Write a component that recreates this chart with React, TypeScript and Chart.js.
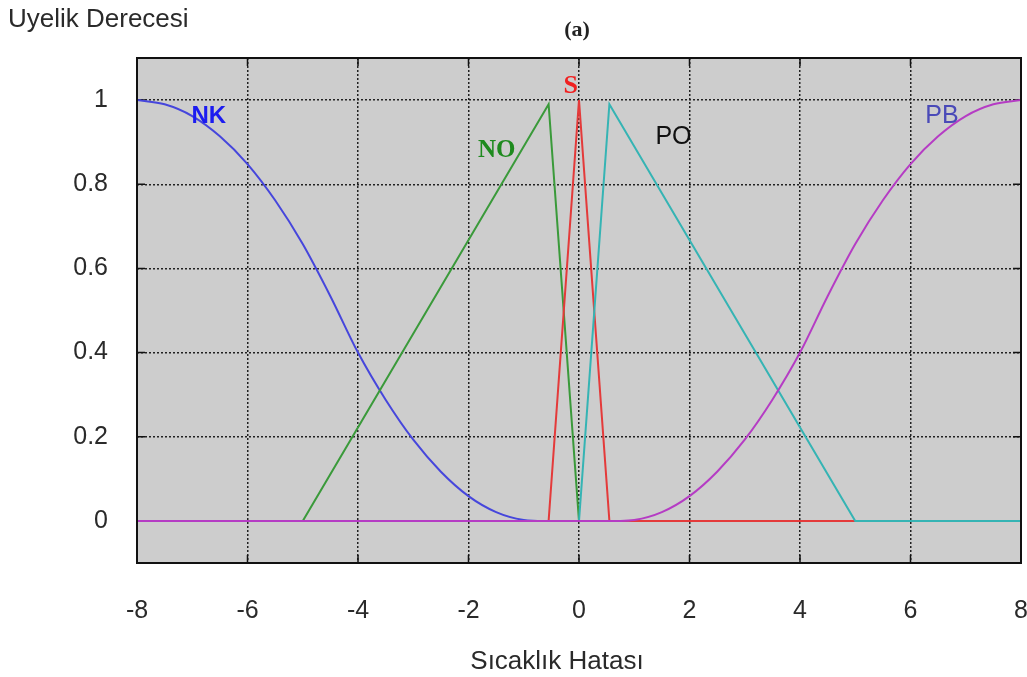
import React, { useEffect, useRef } from "react";
import { Chart, registerables } from "chart.js";

Chart.register(...registerables);

// Membership functions (x: Sıcaklık Hatası, y: Uyelik Derecesi)
const nkX = [-8, -7.5, -7, -6.5, -6, -5.5, -5, -4.5, -4, -3.5, -3, -2.5, -2, -1.5, -1, -0.75];
const nkY = [1, 0.99, 0.962, 0.914, 0.848, 0.762, 0.658, 0.534, 0.40, 0.288, 0.193, 0.117, 0.059, 0.021, 0.002, 0];

const noX = [-8, -5, -0.55, 0];
const noY = [0, 0, 0.99, 0];

const sX = [-8, -0.55, 0, 0.55, 8];
const sY = [0, 0, 1, 0, 0];

const poX = [0, 0.55, 5, 8];
const poY = [0, 0.99, 0, 0];

const pbX = [-8, 0.75, 1, 1.5, 2, 2.5, 3, 3.5, 4, 4.5, 5, 5.5, 6, 6.5, 7, 7.5, 8];
const pbY = [0, 0, 0.002, 0.021, 0.059, 0.117, 0.193, 0.288, 0.40, 0.534, 0.658, 0.762, 0.848, 0.914, 0.962, 0.99, 1];

const xTicks = [-8, -6, -4, -2, 0, 2, 4, 6, 8];
const yTicks = [0, 0.2, 0.4, 0.6, 0.8, 1];

const labelNames = ["NK", "NO", "S", "PO", "PB"];
const labelX = [-6.7, -1.49, -0.15, 1.71, 6.57];
const labelY = [0.962, 0.881, 1.033, 0.912, 0.962];
const labelColors = ["#1c1cf0", "#1e8a1e", "#f02020", "#101010", "#4a4ab8"];
const labelFonts = [
  "bold 24px 'Liberation Sans', Arial, sans-serif",
  "bold 25px 'Liberation Serif', 'Times New Roman', serif",
  "bold 26px 'Liberation Serif', 'Times New Roman', serif",
  "25px 'Liberation Sans', Arial, sans-serif",
  "25px 'Liberation Sans', Arial, sans-serif",
];

const pts = (xs: number[], ys: number[]) => xs.map((x, i) => ({ x, y: ys[i] }));

export default function App() {
  const ref = useRef<HTMLCanvasElement | null>(null);

  useEffect(() => {
    if (!ref.current) return;
    const bgPlugin = {
      id: "bg",
      beforeDraw(chart: any) {
        const { ctx, chartArea: a } = chart;
        ctx.save();
        ctx.fillStyle = "#ffffff";
        ctx.fillRect(0, 0, chart.width, chart.height);
        ctx.fillStyle = "#cdcdcd";
        ctx.fillRect(a.left, a.top, a.right - a.left, a.bottom - a.top);
        ctx.restore();
      },
      beforeDatasetsDraw(chart: any) {
        const { ctx, chartArea: a, scales } = chart;
        ctx.save();
        ctx.strokeStyle = "#111";
        ctx.lineWidth = 1.5;
        ctx.beginPath();
        for (const v of xTicks) {
          const px = scales.x.getPixelForValue(v);
          ctx.moveTo(px, a.top);
          ctx.lineTo(px, a.top + 8);
          ctx.moveTo(px, a.bottom);
          ctx.lineTo(px, a.bottom - 8);
        }
        for (const v of yTicks) {
          const py = scales.y.getPixelForValue(v);
          ctx.moveTo(a.left, py);
          ctx.lineTo(a.left + 8, py);
          ctx.moveTo(a.right, py);
          ctx.lineTo(a.right - 8, py);
        }
        ctx.stroke();
        ctx.restore();
      },
      afterDraw(chart: any) {
        const { ctx, chartArea: a, scales } = chart;
        ctx.save();
        ctx.strokeStyle = "#111";
        ctx.lineWidth = 2;
        ctx.strokeRect(a.left, a.top, a.right - a.left, a.bottom - a.top);
        ctx.textAlign = "center";
        ctx.textBaseline = "middle";
        for (let i = 0; i < labelNames.length; i++) {
          ctx.font = labelFonts[i];
          ctx.fillStyle = labelColors[i];
          ctx.fillText(
            labelNames[i],
            scales.x.getPixelForValue(labelX[i]),
            scales.y.getPixelForValue(labelY[i])
          );
        }
        ctx.fillStyle = "#222";
        ctx.font = "bold 22px 'Liberation Serif', 'Times New Roman', serif";
        ctx.fillText("(a)", 577, 30);
        ctx.font = "26px 'Liberation Sans', Arial, sans-serif";
        ctx.fillStyle = "#2a2a2a";
        ctx.textAlign = "left";
        ctx.fillText("Uyelik Derecesi", 8, 20);
        ctx.textAlign = "center";
        ctx.fillText("Sıcaklık Hatası", 557, 662);
        ctx.restore();
      },
    };

    const chart = new Chart(ref.current, {
      type: "line",
      data: {
        datasets: [
          { label: "PB", data: pts(pbX, pbY), borderColor: "#b53cc4", borderWidth: 2, cubicInterpolationMode: "monotone" },
          { label: "PO", data: pts(poX, poY), borderColor: "#35b4b4", borderWidth: 2, tension: 0 },
          { label: "S", data: pts(sX, sY), borderColor: "#e43a3a", borderWidth: 2, tension: 0 },
          { label: "NO", data: pts(noX, noY), borderColor: "#3a9a3a", borderWidth: 2, tension: 0 },
          { label: "NK", data: pts(nkX, nkY), borderColor: "#4646dc", borderWidth: 2, cubicInterpolationMode: "monotone" },
        ] as any,
      },
      options: {
        animation: false,
        responsive: false,
        devicePixelRatio: 1,
        parsing: false,
        elements: { point: { radius: 0 } },
        layout: { padding: { left: 0, top: 58, right: 6, bottom: 0 } },
        plugins: { legend: { display: false }, tooltip: { enabled: false } },
        scales: {
          x: {
            type: "linear",
            min: -8,
            max: 8,
            afterBuildTicks(scale: any) {
              scale.ticks = xTicks.map((v) => ({ value: v }));
            },
            ticks: {
              padding: 33,
              color: "#2a2a2a",
              font: { family: "'Liberation Sans', Arial, sans-serif", size: 25 },
            },
            grid: { color: "#222", lineWidth: 1.5, drawTicks: false },
            border: { display: false, dash: [2, 2] },
            afterFit(scale: any) {
              scale.height = 677 - 563;
              scale.paddingLeft = 0;
              scale.paddingRight = 0;
            },
          },
          y: {
            type: "linear",
            min: -0.1,
            max: 1.1,
            afterBuildTicks(scale: any) {
              scale.ticks = yTicks.map((v) => ({ value: v }));
            },
            ticks: {
              padding: 29,
              color: "#2a2a2a",
              font: { family: "'Liberation Sans', Arial, sans-serif", size: 25 },
              callback: (v: any) => String(Math.round(Number(v) * 10) / 10),
            },
            grid: { color: "#222", lineWidth: 1.5, drawTicks: false },
            border: { display: false, dash: [2, 2] },
            afterFit(scale: any) {
              scale.width = 137;
              scale.paddingTop = 0;
              scale.paddingBottom = 0;
            },
          },
        },
      } as any,
      plugins: [bgPlugin],
    });
    return () => chart.destroy();
  }, []);

  return (
    <div style={{ position: "fixed", left: 0, top: 0, width: 1027, height: 677, background: "#fff" }}>
      <canvas ref={ref} width={1027} height={677} style={{ width: 1027, height: 677 }} />
    </div>
  );
}
